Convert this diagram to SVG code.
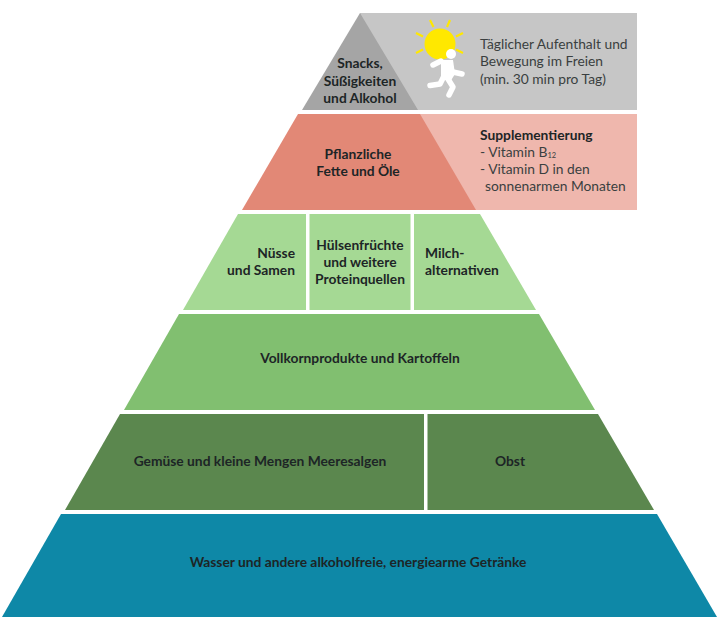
<svg xmlns="http://www.w3.org/2000/svg" width="720" height="622" viewBox="0 0 720 622">
<style>
text{font-family:"Lato","Noto Sans",sans-serif;font-size:13.8px;font-weight:700;fill:#1d2526;text-anchor:middle}
.n{font-weight:400;fill:#3a3f40;text-anchor:start}
.b{font-weight:700;fill:#1d2526;text-anchor:start}
.ray{stroke:#ffe800;stroke-width:2.2;fill:none}
.w{stroke:#fff;stroke-linecap:round;stroke-linejoin:round;fill:none}
</style>
<rect width="720" height="622" fill="#fff"/>
<g id="bewegung">
<rect x="360" y="13" width="277" height="97" fill="#c6c6c6"/>
<g id="sonne">
<circle cx="440" cy="44" r="15.5" fill="#ffe800"/>
<path class="ray" d="M430 20l3.500 7M450 20l-3 7M416 33l7 3.500M463 33l-7 3.500M416 53l7-3.500M463 53l-7-3.500"/>
</g>
<g id="laeufer">
<circle cx="451" cy="54" r="5" fill="#fff"/>
<polygon points="441,60 453,60 455,74 450,82 441,78" fill="#fff"/>
<path class="w" stroke-width="5.500" d="M433 65l8-4M453 72l9 2M448 79l5 8-4 8M444 76l-4 8-10 1.500"/>
</g>
<text class="n" x="480" y="49">Täglicher Aufenthalt und</text>
<text class="n" x="480" y="66">Bewegung im Freien</text>
<text class="n" x="480" y="84">(min. 30 min pro Tag)</text>
</g>
<g id="snacks">
<polygon points="360,13 418,110 302,110" fill="#a5a5a5"/>
<text x="360" y="68">Snacks,</text>
<text x="360" y="86">Süßigkeiten</text>
<text x="360" y="103">und Alkohol</text>
</g>
<g id="supplementierung">
<rect x="420" y="114" width="217" height="96" fill="#efb7ad"/>
<text class="b" x="480" y="140">Supplementierung</text>
<text class="n" x="480" y="157">- Vitamin B<tspan font-size="7.500" dy="1">12</tspan></text>
<text class="n" x="480" y="174">- Vitamin D in den</text>
<text class="n" x="485" y="191">sonnenarmen Monaten</text>
</g>
<g id="fette">
<polygon points="298,114 420,114 476,210 242,210" fill="#e28876"/>
<text x="358" y="159">Pflanzliche</text>
<text x="358" y="176">Fette und Öle</text>
</g>
<g id="nuesse">
<polygon points="238,214 306,214 306,310 183,310" fill="#a5d994"/>
<text x="295" y="258" style="text-anchor:end">Nüsse</text>
<text x="295" y="275" style="text-anchor:end">und Samen</text>
</g>
<g id="huelsenfruechte">
<rect x="309.500" y="214" width="101" height="96" fill="#a5d994"/>
<text x="360" y="250">Hülsenfrüchte</text>
<text x="360" y="267">und weitere</text>
<text x="360" y="284">Proteinquellen</text>
</g>
<g id="milch">
<polygon points="414,214 480,214 536,310 414,310" fill="#a5d994"/>
<text x="425" y="258" style="text-anchor:start">Milch-</text>
<text x="425" y="275" style="text-anchor:start">alternativen</text>
</g>
<g id="vollkorn">
<polygon points="179,314 539,314 595,410 124,410" fill="#81bf70"/>
<text x="360" y="363">Vollkornprodukte und Kartoffeln</text>
</g>
<g id="gemuese">
<polygon points="120,414 424,414 424,510 65,510" fill="#5b874e"/>
<text x="260" y="466">Gemüse und kleine Mengen Meeresalgen</text>
</g>
<g id="obst">
<polygon points="427.500,414 598,414 654,510 427.500,510" fill="#5b874e"/>
<text x="510" y="466">Obst</text>
</g>
<g id="wasser">
<polygon points="61,514 657,514 717,617 2,617" fill="#0e88a7"/>
<text x="358" y="567">Wasser und andere alkoholfreie, energiearme Getränke</text>
</g>
</svg>
